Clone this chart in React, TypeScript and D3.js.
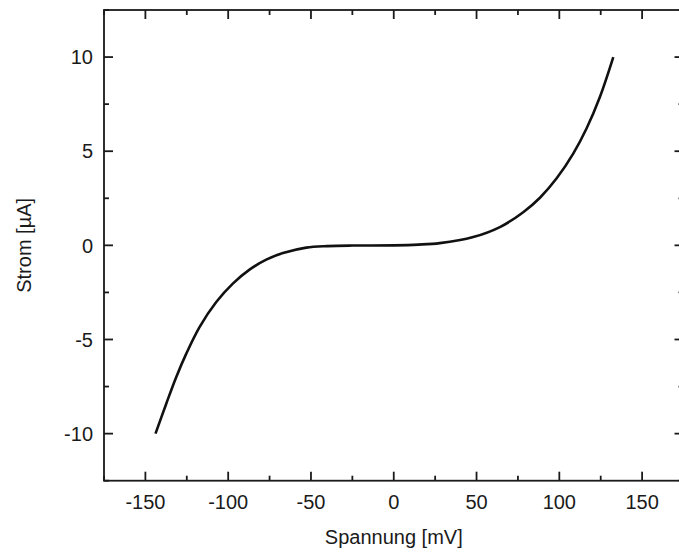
import React from "react";
import * as d3 from "d3";

const voltage = [-143.9, -137.4, -131.4, -125.3, -117.3, -107.2, -97.2, -87.1, -77.0, -66.9, -52.8, -40, -25, 0, 15, 27.8, 48, 64.1, 78.2, 88.3, 98.4, 108.4, 116.5, 124.5, 132.6];
const current = [-10.0, -8.41, -7.0, -5.75, -4.34, -3.01, -2.03, -1.29, -0.76, -0.41, -0.12, -0.04, -0.01, 0.0, 0.04, 0.12, 0.44, 0.97, 1.76, 2.53, 3.56, 4.87, 6.22, 7.88, 10.0];
const xMajorTicks = [-150, -100, -50, 0, 50, 100, 150];
const xMinorTicks = [-175, -125, -75, -25, 25, 75, 125, 175];
const yMajorTicks = [-10, -5, 0, 5, 10];
const yMinorTicks = [-12.5, -7.5, -2.5, 2.5, 7.5, 12.5];
const xTitle = "Spannung [mV]";
const yTitle = "Strom [µA]";

const W = 679;
const H = 554;
const L = 104;
const R = 683.5;
const T = 10;
const B = 480.7;

export default function App() {
  const x = d3.scaleLinear().domain([-175, 175]).range([L, R]);
  const y = d3.scaleLinear().domain([-12.5, 12.5]).range([B, T]);
  const pts = voltage.map((v, i) => [v, current[i]] as [number, number]);
  const line = d3
    .line<[number, number]>()
    .x((d) => x(d[0]))
    .y((d) => y(d[1]))
    .curve(d3.curveCatmullRom.alpha(0.5));
  const font = "'Liberation Sans', Arial, sans-serif";
  const major = 9;
  const minor = 5;
  return (
    <svg
      width={W}
      height={H}
      style={{ position: "absolute", left: 0, top: 0, background: "#fff" }}
    >
      <rect x={0} y={0} width={W} height={H} fill="#fff" />
      <path d={line(pts) || ""} fill="none" stroke="#111" strokeWidth={2.6} strokeLinejoin="round" />
      <g stroke="#1a1a1a" strokeWidth={1.8}>
        {xMajorTicks.map((t) => (
          <g key={"xM" + t}>
            <line x1={x(t)} x2={x(t)} y1={B} y2={B - major} />
            <line x1={x(t)} x2={x(t)} y1={T} y2={T + major} />
          </g>
        ))}
        {xMinorTicks.map((t) => (
          <g key={"xm" + t}>
            <line x1={x(t)} x2={x(t)} y1={B} y2={B - minor} />
            <line x1={x(t)} x2={x(t)} y1={T} y2={T + minor} />
          </g>
        ))}
        {yMajorTicks.map((t) => (
          <g key={"yM" + t}>
            <line x1={L} x2={L + major} y1={y(t)} y2={y(t)} />
            <line x1={R} x2={R - major} y1={y(t)} y2={y(t)} />
          </g>
        ))}
        {yMinorTicks.map((t) => (
          <g key={"ym" + t}>
            <line x1={L} x2={L + minor} y1={y(t)} y2={y(t)} />
            <line x1={R} x2={R - minor} y1={y(t)} y2={y(t)} />
          </g>
        ))}
      </g>
      <rect x={L} y={T} width={R - L} height={B - T} fill="none" stroke="#1a1a1a" strokeWidth={1.8} />
      <g fontFamily={font} fontSize={20} fill="#1a1a1a">
        {xMajorTicks.map((t) => (
          <text key={"xl" + t} x={x(t)} y={509} textAnchor="middle">
            {t}
          </text>
        ))}
        {yMajorTicks.map((t) => (
          <text key={"yl" + t} x={93} y={y(t)} dy="0.36em" textAnchor="end">
            {t}
          </text>
        ))}
        <text x={(L + R) / 2} y={544} textAnchor="middle">
          {xTitle}
        </text>
        <text transform={`translate(31, ${(T + B) / 2}) rotate(-90)`} textAnchor="middle">
          {yTitle}
        </text>
      </g>
    </svg>
  );
}
